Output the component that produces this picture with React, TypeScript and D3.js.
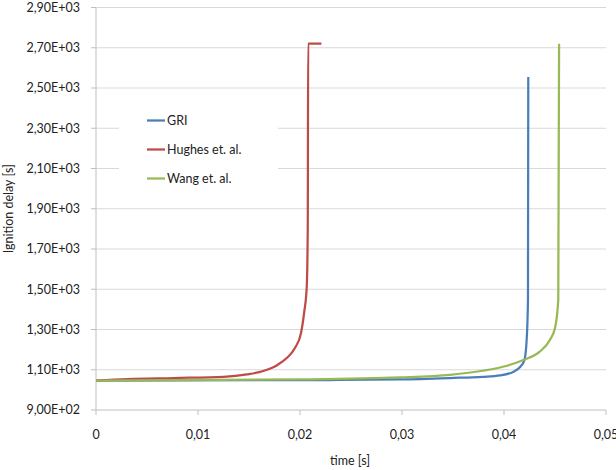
import React from 'react';
import * as d3 from 'd3';

// series (time [s], ignition delay)
const griT = [0, 0.0229, 0.0298, 0.0347, 0.0379, 0.0396, 0.0409, 0.0416, 0.0420, 0.04222, 0.04235, 0.04238];
const griV = [1046, 1049, 1052, 1059, 1065, 1072, 1089, 1115, 1148, 1248, 1447, 2555];

const hughesT = [0, 0.0031, 0.0076, 0.0125, 0.0148, 0.0164, 0.0178, 0.0187, 0.0195, 0.0201, 0.0204, 0.02066, 0.02076, 0.0208, 0.0221];
const hughesV = [1046, 1054, 1059, 1065, 1077, 1094, 1124, 1158, 1208, 1283, 1382, 1511, 1800, 2720, 2720];

const wangT = [0, 0.0200, 0.0298, 0.0347, 0.0379, 0.0403, 0.0419, 0.0435, 0.0445, 0.0450, 0.04532, 0.0454];
const wangV = [1046, 1052, 1062, 1075, 1095, 1120, 1148, 1190, 1248, 1307, 1447, 2720];

const yTicks = [900, 1100, 1300, 1500, 1700, 1900, 2100, 2300, 2500, 2700, 2900];
const xTicks = [0, 0.01, 0.02, 0.03, 0.04, 0.05];

const series = [
  { name: 'GRI', color: '#4A7EBB', t: griT, v: griV },
  { name: 'Hughes et. al.', color: '#BE4B48', t: hughesT, v: hughesV },
  { name: 'Wang et. al.', color: '#98B954', t: wangT, v: wangV },
];

const W = 616;
const H = 470;
const m = { left: 96, right: 10, top: 7.5, bottom: 60 };
const font = 'Lato, "Open Sans", sans-serif';

const fmtY = (d: number) => {
  const e = Math.floor(Math.log10(d));
  const mant = (d / Math.pow(10, e)).toFixed(2).replace('.', ',');
  return `${mant}E+${String(e).padStart(2, '0')}`;
};
const fmtX = (d: number) => (d === 0 ? '0' : d.toFixed(2).replace('.', ','));

export default function App() {
  const x = d3.scaleLinear().domain([0, 0.05]).range([m.left, W - m.right]);
  const y = d3.scaleLinear().domain([900, 2900]).range([H - m.bottom, m.top]);

  const line = d3
    .line<[number, number]>()
    .x((d) => x(d[0]))
    .y((d) => y(d[1]))
    .curve(d3.curveMonotoneX);

  const x0 = x(0);
  const x1 = x(0.05);
  const yb = y(900);

  return (
    <div style={{ position: 'absolute', left: 0, top: 0 }}>
      <svg width={W} height={H} style={{ display: 'block', background: '#fff' }}>
        {/* gridlines */}
        {yTicks.map((t) => (
          <g key={t}>
            {t !== 900 && (
              <line x1={x0} x2={x1} y1={y(t)} y2={y(t)} stroke="#D9D9D9" strokeWidth={1} />
            )}
            <line x1={x0 - 5} x2={x0} y1={y(t)} y2={y(t)} stroke="#BFBFBF" strokeWidth={1} />
            <text
              x={80}
              y={y(t)}
              dy="0.35em"
              textAnchor="end"
              fontFamily={font}
              fontSize={12.5}
              fill="#222"
            >
              {fmtY(t)}
            </text>
          </g>
        ))}

        {/* axes */}
        <line x1={x0} x2={x0} y1={y(2900)} y2={yb} stroke="#BFBFBF" strokeWidth={1} />
        <line x1={x0} x2={x1} y1={yb} y2={yb} stroke="#BFBFBF" strokeWidth={1} />
        {xTicks.map((t) => (
          <g key={t}>
            <line x1={x(t)} x2={x(t)} y1={yb} y2={yb + 5} stroke="#BFBFBF" strokeWidth={1} />
            <text
              x={x(t)}
              y={435}
              dy="0.35em"
              textAnchor="middle"
              fontFamily={font}
              fontSize={12.5}
              fill="#222"
            >
              {fmtX(t)}
            </text>
          </g>
        ))}

        {/* legend background */}
        <rect x={119} y={100} width={159} height={99} fill="#fff" />

        {/* series */}
        {series.map((s) => (
          <path
            key={s.name}
            d={line(s.t.map((t, i) => [t, s.v[i]] as [number, number])) || ''}
            fill="none"
            stroke={s.color}
            strokeWidth={2.25}
          />
        ))}

        {/* legend */}
        {series.map((s, i) => {
          const ly = 120.5 + i * 29;
          return (
            <g key={s.name}>
              <line x1={147} x2={165} y1={ly} y2={ly} stroke={s.color} strokeWidth={2.25} />
              <text x={167} y={ly} dy="0.35em" fontFamily={font} fontSize={12.5} fill="#222">
                {s.name}
              </text>
            </g>
          );
        })}

        {/* axis titles */}
        <text
          x={350}
          y={461}
          dy="0.35em"
          textAnchor="middle"
          fontFamily={font}
          fontSize={12.5}
          fill="#222"
        >
          time [s]
        </text>
        <text
          transform={`translate(9, ${(y(2900) + yb) / 2}) rotate(-90)`}
          dy="0.35em"
          textAnchor="middle"
          fontFamily={font}
          fontSize={12.5}
          fill="#222"
        >
          Ignition delay [s]
        </text>
      </svg>
    </div>
  );
}
